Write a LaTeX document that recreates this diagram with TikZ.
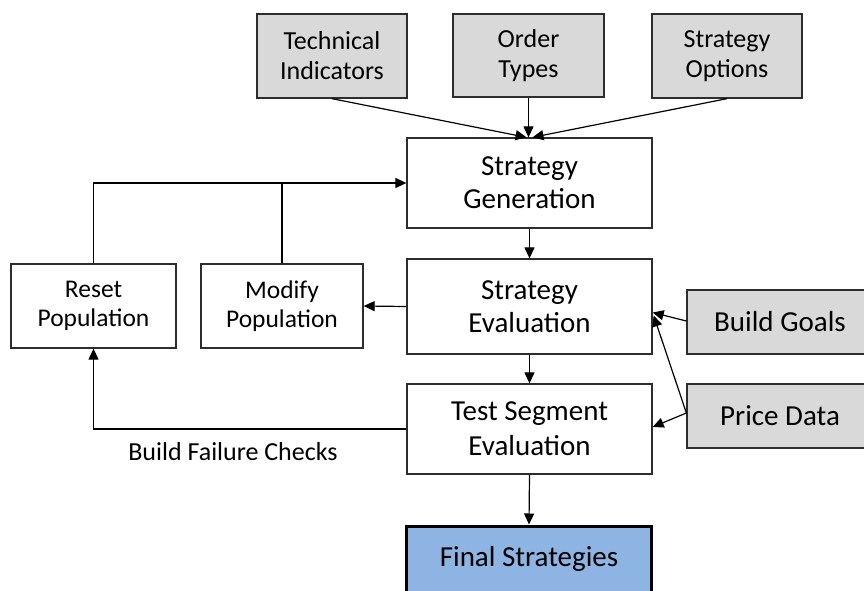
\documentclass[tikz,border=0pt]{standalone}
\usepackage{fontspec}
\setmainfont{Carlito}
\usetikzlibrary{arrows.meta}
\definecolor{boxgray}{RGB}{217,217,217}
\definecolor{finalblue}{RGB}{141,180,226}
\definecolor{edge}{RGB}{45,45,45}
\tikzset{
  box/.style={draw=edge, line width=1.3pt, inner sep=0pt, align=center, text=black},
  inbox/.style={box, fill=boxgray},
  mainfont/.style={font=\fontsize{29}{33}\selectfont},
  topfont/.style={font=\fontsize{26}{30}\selectfont},
  popfont/.style={font=\fontsize{25.5}{29}\selectfont},
  conn/.style={draw=black, line width=1.2pt},
  arr/.style={conn, -{Triangle[length=11pt,width=10pt]}},
}
\begin{document}
\begin{tikzpicture}[x=1pt,y=-1pt]
\useasboundingbox (0,0) rectangle (864,591);
\clip (0,0) rectangle (864,591);
\fill[white] (0,0) rectangle (864,591);
% top inputs
\node[inbox, topfont, minimum width=150pt, minimum height=84pt] (ti) at (332,56) {Technical\\Indicators};
\node[inbox, topfont, minimum width=151pt, minimum height=83pt] (ot) at (528.5,55.5) {Order\\Types};
\node[inbox, topfont, minimum width=150pt, minimum height=84pt] (so) at (727,56) {Strategy\\Options};
% main column
\node[box, mainfont, minimum width=245pt, minimum height=90pt] (sg) at (529.5,183) {Strategy\\Generation};
\node[box, mainfont, minimum width=245pt, minimum height=95pt] (se) at (529.5,306.5) {Strategy\\Evaluation};
\node[box, mainfont, minimum width=245pt, minimum height=90pt, font=\fontsize{29}{35}\selectfont] (tse) at (529.5,429) {Test Segment\\Evaluation};
\node[box, draw=black, line width=3pt, fill=finalblue, mainfont, minimum width=245pt, minimum height=66pt] (fs) at (529,559) {Final Strategies};
% left boxes
\node[box, popfont, minimum width=165pt, minimum height=84pt] (reset) at (93.5,306) {Reset\\Population};
\node[box, popfont, minimum width=162pt, minimum height=84pt] (modify) at (282,306) {Modify\\Population};
% right inputs
\node[inbox, mainfont, minimum width=186pt, minimum height=64pt] (bg) at (780,322) {Build Goals};
\node[inbox, mainfont, minimum width=186pt, minimum height=64pt] (pd) at (780,416) {Price Data};
% label
\node[topfont] (bfc) at (233,452) {Build Failure Checks};
% connectors
\draw[arr] (ti.south) -- ([xshift=-3pt]sg.north);
\draw[arr] (ot.south) -- (ot.south |- sg.north);
\draw[arr] (so.south) -- ([xshift=3pt]sg.north);
\draw[arr] (reset.north) |- (sg.west);
\draw[conn] (modify.north) -- (modify.north |- sg.west);
\draw[arr] (sg.south) -- (se.north);
\draw[arr] (se.west) -- (modify.east);
\draw[arr] (se.south) -- (tse.north);
\draw[arr] (tse.south) -- (fs.north);
\draw[arr] (tse.west) -| (reset.south);
\draw[arr] ([yshift=1pt]bg.west) -- ([yshift=-6pt]se.east);
\draw[arr] ([yshift=3pt]pd.west) -- ([xshift=1pt,yshift=-9pt]se.east);
\draw[arr] ([yshift=3pt]pd.west) -- ([yshift=2pt]tse.east);
\end{tikzpicture}
\end{document}
